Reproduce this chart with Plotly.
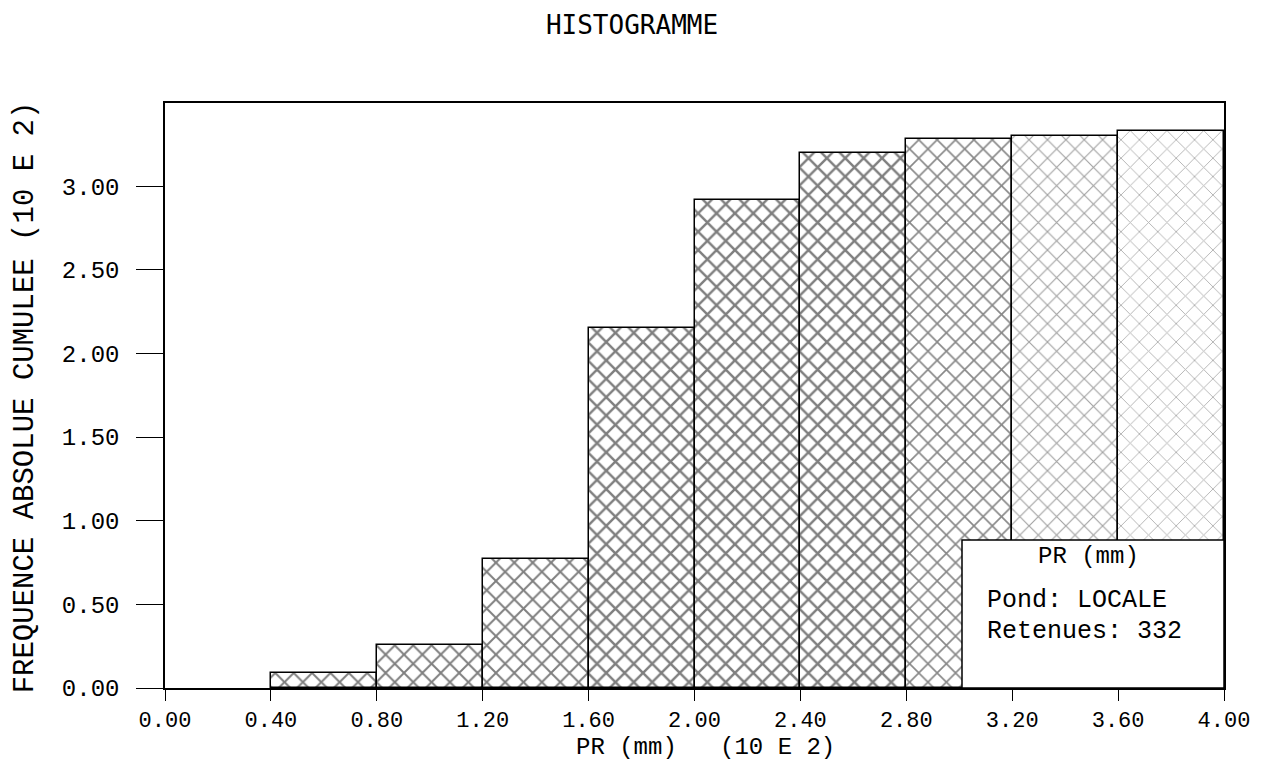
import plotly.graph_objects as go

# Data (units of 10^2)
bin_left = [0.40, 0.80, 1.20, 1.60, 2.00, 2.40, 2.80, 3.20, 3.60]
bin_width = 0.40
cum_freq = [0.09, 0.26, 0.77, 2.15, 2.92, 3.20, 3.28, 3.30, 3.33]
x_ticks = [0.0, 0.4, 0.8, 1.2, 1.6, 2.0, 2.4, 2.8, 3.2, 3.6, 4.0]
y_ticks = [0.0, 0.5, 1.0, 1.5, 2.0, 2.5, 3.0]
pattern_colors = ["#000", "#000", "#000", "#000", "#000", "#000", "#111", "#444", "#666"]
pattern_solidity = [0.28, 0.28, 0.28, 0.34, 0.34, 0.34, 0.24, 0.17, 0.14]

centers = [b + bin_width / 2 for b in bin_left]

FONT = "Liberation Mono"

fig = go.Figure()
fig.add_trace(go.Bar(
    x=centers,
    y=cum_freq,
    width=[bin_width] * len(centers),
    marker=dict(
        color="white",
        line=dict(color="black", width=1.5),
        pattern=dict(shape="x", size=13, solidity=pattern_solidity,
                     fgcolor=pattern_colors, bgcolor="white", fillmode="overlay"),
    ),
    showlegend=False,
))

fig.update_layout(
    width=1254, height=756,
    paper_bgcolor="white", plot_bgcolor="white",
    margin=dict(l=157, r=30, t=95, b=76),
    title=dict(text="HISTOGRAMME", x=624 / 1254, xref="container", xanchor="center",
               y=1 - 17 / 756, yanchor="middle", yref="container",
               font=dict(family="DejaVu Sans Mono", size=26, color="black")),
    font=dict(family=FONT, color="black"),
    bargap=0,
)

fig.update_xaxes(
    range=[0, 4.0], tickvals=x_ticks, tickformat=".2f",
    ticks="outside", ticklen=11, tickwidth=1.2, tickcolor="black",
    showline=True, linecolor="black", linewidth=1.5, mirror=True,
    showgrid=False, zeroline=False, ticklabelstandoff=0,
    ticklabeloverflow="allow",
    tickfont=dict(family=FONT, size=22, color="black"),
)
fig.update_yaxes(
    range=[0, 3.497], tickvals=y_ticks, tickformat=".2f",
    ticks="outside", ticklen=27, tickwidth=1.2, tickcolor="black",
    showline=True, linecolor="black", linewidth=1.5, mirror=True,
    showgrid=False, zeroline=False, ticklabelstandoff=12,
    tickfont=dict(family=FONT, size=24, color="black"),
)

# Axis titles
fig.add_annotation(xref="paper", yref="paper", x=0.51, y=-0.102,
                   text="PR (mm)   (10 E 2)", showarrow=False,
                   xanchor="center", yanchor="middle",
                   font=dict(family=FONT, size=24, color="black"))
fig.add_annotation(xref="paper", yref="paper", x=(25 - 165) / 1063, y=0.496,
                   text="FREQUENCE ABSOLUE CUMULEE (10 E 2)", showarrow=False,
                   textangle=-90, xanchor="center", yanchor="middle",
                   font=dict(family=FONT, size=29, color="black"))

# Info box
fig.add_shape(type="rect", xref="paper", yref="paper",
              x0=0.7526, x1=1.0, y0=0.0, y1=0.253,
              fillcolor="white", line=dict(color="black", width=1.5), layer="above")
fig.add_annotation(xref="paper", yref="paper", x=0.872, y=0.225, text="PR (mm)",
                   showarrow=False, xanchor="center", yanchor="middle",
                   font=dict(family=FONT, size=24, color="black"))
fig.add_annotation(xref="paper", yref="paper", x=0.774, y=0.150, text="Pond: LOCALE",
                   showarrow=False, xanchor="left", yanchor="middle",
                   font=dict(family=FONT, size=25, color="black"))
fig.add_annotation(xref="paper", yref="paper", x=0.774, y=0.096, text="Retenues: 332",
                   showarrow=False, xanchor="left", yanchor="middle",
                   font=dict(family=FONT, size=25, color="black"))

fig.write_html("out.html")
